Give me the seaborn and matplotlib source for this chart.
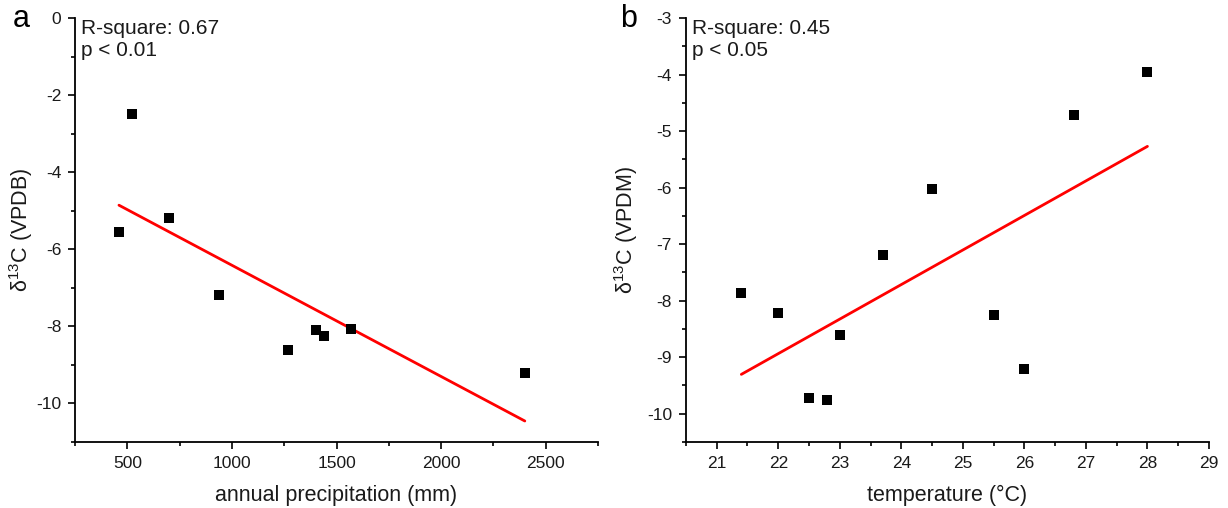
# d13C vs precipitation / temperature scatter with linear fits
import numpy as np
import pandas as pd
import matplotlib
matplotlib.use("Agg")
import matplotlib.pyplot as plt
import seaborn as sns
from matplotlib.ticker import MultipleLocator

# ============================================
# DATA
# ============================================

precip_mm = [460, 520, 700, 940, 1270, 1400, 1440, 1570, 2400]
d13c_precip = [-5.55, -2.49, -5.18, -7.19, -8.61, -8.09, -8.26, -8.06, -9.21]

temp_c = [21.4, 22.0, 22.5, 22.8, 23.0, 23.7, 24.5, 25.5, 26.0, 26.8, 28.0]
d13c_temp = [-7.86, -8.21, -9.72, -9.76, -8.61, -7.20, -6.02, -8.26, -9.20, -4.72, -3.96]

stats_a = "R-square: 0.67\np < 0.01"
stats_b = "R-square: 0.45\np < 0.05"

df_a = pd.DataFrame({"x": precip_mm, "y": d13c_precip})
df_b = pd.DataFrame({"x": temp_c, "y": d13c_temp})

# ============================================
# STYLE
# ============================================

sns.set_style("ticks")
plt.rcParams["font.family"] = ["Liberation Sans", "DejaVu Sans"]
plt.rcParams["axes.unicode_minus"] = False

text_col = "#1a1a1a"

fig = plt.figure(figsize=(12.28, 5.08), dpi=100)
ax_a = fig.add_axes([0.0611, 0.1299, 0.4259, 0.8347])
ax_b = fig.add_axes([0.5586, 0.1299, 0.4259, 0.8347])


def draw_panel(ax, data, xlabel, ylabel, stats, ypad):
    sns.regplot(
        data=data, x="x", y="y", ax=ax,
        scatter=False, ci=None, truncate=True,
        line_kws={"color": "#ff0000", "lw": 2.0, "zorder": 2}
    )
    sns.scatterplot(
        data=data, x="x", y="y", ax=ax,
        marker="s", s=52, color="black", edgecolor="none", zorder=3
    )
    ax.set_xlabel(xlabel, fontsize=15.5, color=text_col, labelpad=10)
    ax.set_ylabel(ylabel, fontsize=15.5, color=text_col, labelpad=ypad)
    ax.text(0.011, 0.998, stats, transform=ax.transAxes, va="top", ha="left",
            fontsize=15, color=text_col, linespacing=1.2)
    for side in ["top", "right"]:
        ax.spines[side].set_visible(False)
    for side in ["left", "bottom"]:
        ax.spines[side].set_linewidth(1.3)
        ax.spines[side].set_color("black")
    ax.tick_params(which="major", direction="out", length=5, width=1.2,
                   labelsize=12.5, labelcolor=text_col, color="black", pad=5)
    ax.tick_params(which="minor", direction="out", length=3, width=1.2,
                   color="black")


# ============================================
# PANEL a
# ============================================

draw_panel(ax_a, df_a, "annual precipitation (mm)",
           "δ$^{\\mathregular{13}}$C (VPDB)", stats_a, 1)
ax_a.set_xlim(250, 2750)
ax_a.set_ylim(-11, 0)
ax_a.xaxis.set_major_locator(MultipleLocator(500))
ax_a.xaxis.set_minor_locator(MultipleLocator(250))
ax_a.yaxis.set_major_locator(MultipleLocator(2))
ax_a.yaxis.set_minor_locator(MultipleLocator(1))

# ============================================
# PANEL b
# ============================================

draw_panel(ax_b, df_b, "temperature (°C)",
           "δ$^{\\mathregular{13}}$C (VPDM)", stats_b, 5)
ax_b.set_xlim(20.5, 29)
ax_b.set_ylim(-10.5, -3)
ax_b.xaxis.set_major_locator(MultipleLocator(1))
ax_b.xaxis.set_minor_locator(MultipleLocator(0.5))
ax_b.yaxis.set_major_locator(MultipleLocator(1))
ax_b.yaxis.set_minor_locator(MultipleLocator(0.5))

# panel letters
fig.text(0.010, 0.962, "a", fontsize=22, va="center", ha="left", color="black")
fig.text(0.505, 0.962, "b", fontsize=22, va="center", ha="left", color="black")

fig.savefig("out.png", dpi=100)
